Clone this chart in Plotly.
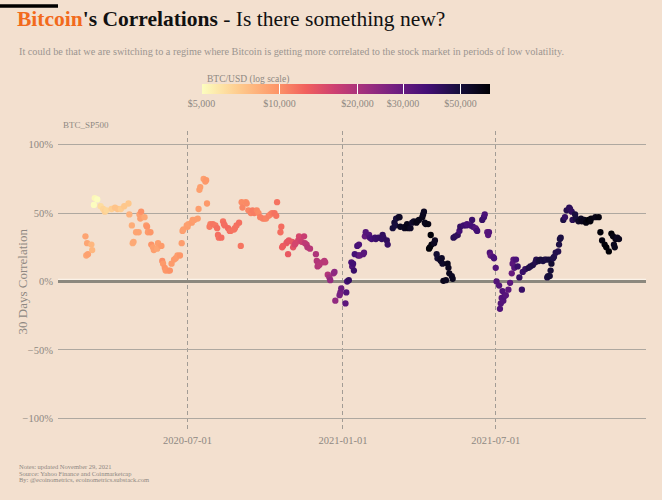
import numpy as np
import plotly.graph_objects as go

# 30 day correlation BTC vs S&P500, BTC price (USD) on each date
dates = [
    "2020-03-02", "2020-03-03", "2020-03-04", "2020-03-05", "2020-03-09", "2020-03-10", "2020-03-12", "2020-03-13",
    "2020-03-16", "2020-03-20", "2020-03-23", "2020-03-25", "2020-03-27", "2020-04-02", "2020-04-06", "2020-04-09",
    "2020-04-13", "2020-04-17", "2020-04-22", "2020-04-23", "2020-04-26", "2020-04-27", "2020-04-28", "2020-05-01",
    "2020-05-04", "2020-05-05", "2020-05-06", "2020-05-07", "2020-05-11", "2020-05-13", "2020-05-14", "2020-05-15",
    "2020-05-18", "2020-05-19", "2020-05-21", "2020-05-22", "2020-05-26", "2020-05-27", "2020-05-31", "2020-06-01",
    "2020-06-02", "2020-06-04", "2020-06-05", "2020-06-08", "2020-06-10", "2020-06-12", "2020-06-15", "2020-06-17",
    "2020-06-19", "2020-06-22", "2020-06-24", "2020-06-25", "2020-06-26", "2020-06-30", "2020-07-01", "2020-07-02",
    "2020-07-06", "2020-07-07", "2020-07-09", "2020-07-13", "2020-07-14", "2020-07-15", "2020-07-16", "2020-07-20",
    "2020-07-22", "2020-07-23", "2020-07-24", "2020-07-27", "2020-07-28", "2020-07-31", "2020-08-03", "2020-08-05",
    "2020-08-06", "2020-08-07", "2020-08-10", "2020-08-12", "2020-08-13", "2020-08-14", "2020-08-18", "2020-08-20",
    "2020-08-21", "2020-08-25", "2020-08-26", "2020-08-28", "2020-08-31", "2020-09-02", "2020-09-03", "2020-09-04",
    "2020-09-08", "2020-09-09", "2020-09-11", "2020-09-14", "2020-09-16", "2020-09-18", "2020-09-21", "2020-09-23",
    "2020-09-25", "2020-09-28", "2020-09-30", "2020-10-02", "2020-10-05", "2020-10-07", "2020-10-09", "2020-10-12",
    "2020-10-14", "2020-10-15", "2020-10-19", "2020-10-20", "2020-10-21", "2020-10-22", "2020-10-26", "2020-10-27",
    "2020-10-28", "2020-10-29", "2020-11-02", "2020-11-03", "2020-11-05", "2020-11-06", "2020-11-09", "2020-11-10",
    "2020-11-11", "2020-11-13", "2020-11-16", "2020-11-17", "2020-11-19", "2020-11-20", "2020-11-23", "2020-11-30",
    "2020-12-01", "2020-12-02", "2020-12-03", "2020-12-04", "2020-12-08", "2020-12-10", "2020-12-11", "2020-12-14",
    "2020-12-16", "2020-12-17", "2020-12-21", "2020-12-22", "2020-12-23", "2020-12-28", "2020-12-29", "2020-12-30",
    "2021-01-04", "2021-01-05", "2021-01-06", "2021-01-08", "2021-01-11", "2021-01-12", "2021-01-13", "2021-01-14",
    "2021-01-15", "2021-01-18", "2021-01-19", "2021-01-20", "2021-01-21", "2021-01-25", "2021-01-26", "2021-01-27",
    "2021-01-28", "2021-02-01", "2021-02-02", "2021-02-04", "2021-02-08", "2021-02-09", "2021-02-12", "2021-02-16",
    "2021-02-17", "2021-02-18", "2021-02-22", "2021-02-23", "2021-03-01", "2021-03-03", "2021-03-04", "2021-03-05",
    "2021-03-08", "2021-03-09", "2021-03-10", "2021-03-15", "2021-03-16", "2021-03-18", "2021-03-19", "2021-03-22",
    "2021-03-24", "2021-03-26", "2021-03-29", "2021-03-30", "2021-04-01", "2021-04-05", "2021-04-06", "2021-04-07",
    "2021-04-08", "2021-04-09", "2021-04-12", "2021-04-13", "2021-04-14", "2021-04-15", "2021-04-16", "2021-04-19",
    "2021-04-20", "2021-04-22", "2021-04-23", "2021-04-26", "2021-04-27", "2021-04-28", "2021-04-29", "2021-04-30",
    "2021-05-03", "2021-05-05", "2021-05-06", "2021-05-07", "2021-05-10", "2021-05-11", "2021-05-12", "2021-05-14",
    "2021-05-17", "2021-05-19", "2021-05-20", "2021-05-24", "2021-05-27", "2021-05-28", "2021-06-01", "2021-06-03",
    "2021-06-04", "2021-06-07", "2021-06-08", "2021-06-09", "2021-06-15", "2021-06-17", "2021-06-18", "2021-06-21",
    "2021-06-22", "2021-06-23", "2021-06-24", "2021-06-25", "2021-06-28", "2021-06-29", "2021-07-01", "2021-07-02",
    "2021-07-05", "2021-07-06", "2021-07-07", "2021-07-08", "2021-07-09", "2021-07-10", "2021-07-11", "2021-07-13",
    "2021-07-16", "2021-07-18", "2021-07-20", "2021-07-21", "2021-07-22", "2021-07-23", "2021-07-25", "2021-07-27",
    "2021-07-29", "2021-08-01", "2021-08-02", "2021-08-05", "2021-08-09", "2021-08-11", "2021-08-14", "2021-08-17",
    "2021-08-18", "2021-08-21", "2021-08-23", "2021-08-26", "2021-08-28", "2021-08-30", "2021-08-31", "2021-09-01",
    "2021-09-02", "2021-09-03", "2021-09-04", "2021-09-05", "2021-09-07", "2021-09-08", "2021-09-10", "2021-09-13",
    "2021-09-14", "2021-09-15", "2021-09-16", "2021-09-19", "2021-09-21", "2021-09-23", "2021-09-26", "2021-09-27",
    "2021-09-29", "2021-09-30", "2021-10-03", "2021-10-04", "2021-10-07", "2021-10-10", "2021-10-11", "2021-10-14",
    "2021-10-16", "2021-10-19", "2021-10-21", "2021-10-22", "2021-10-27", "2021-10-31", "2021-11-02", "2021-11-04",
    "2021-11-07", "2021-11-09", "2021-11-12", "2021-11-15", "2021-11-17", "2021-11-18", "2021-11-19", "2021-11-20",
    "2021-11-22", "2021-11-24",
]

correlation = [
    0.33, 0.19, 0.28, 0.20, 0.27, 0.23, 0.56, 0.61,
    0.60, 0.55, 0.53, 0.51, 0.52, 0.53, 0.54, 0.53,
    0.53, 0.55, 0.57, 0.49, 0.41, 0.28, 0.29, 0.36,
    0.36, 0.49, 0.46, 0.51, 0.47, 0.41, 0.40, 0.36,
    0.36, 0.27, 0.25, 0.23, 0.24, 0.28, 0.26, 0.15,
    0.13, 0.10, 0.08, 0.08, 0.08, 0.13, 0.16, 0.17,
    0.19, 0.19, 0.28, 0.37, 0.38, 0.41, 0.40, 0.42,
    0.43, 0.45, 0.45, 0.46, 0.53, 0.67, 0.69, 0.75,
    0.73, 0.74, 0.57, 0.40, 0.42, 0.42, 0.41, 0.39,
    0.34, 0.32, 0.32, 0.44, 0.42, 0.41, 0.39, 0.37,
    0.37, 0.38, 0.39, 0.41, 0.43, 0.26, 0.58, 0.54,
    0.58, 0.57, 0.52, 0.50, 0.52, 0.50, 0.52, 0.50,
    0.47, 0.46, 0.46, 0.46, 0.48, 0.49, 0.50, 0.50,
    0.48, 0.58, 0.36, 0.40, 0.25, 0.26, 0.28, 0.29,
    0.20, 0.30, 0.29, 0.25, 0.27, 0.28, 0.30, 0.33,
    0.30, 0.29, 0.33, 0.28, 0.27, 0.25, 0.24, 0.20,
    0.15, 0.11, 0.14, 0.12, 0.14, 0.15, 0.14, 0.05,
    0.03, 0.01, 0.06, 0.07, -0.14, -0.10, -0.08, -0.05,
    -0.16, -0.08, 0.00, 0.01, 0.14, 0.11, 0.13, 0.08,
    0.20, 0.26, 0.19, 0.27, 0.19, 0.20, 0.21, 0.33,
    0.36, 0.34, 0.32, 0.31, 0.32, 0.31, 0.32, 0.31,
    0.34, 0.32, 0.30, 0.27, 0.39, 0.43, 0.41, 0.46,
    0.47, 0.47, 0.40, 0.39, 0.40, 0.42, 0.39, 0.39,
    0.43, 0.44, 0.43, 0.44, 0.45, 0.47, 0.49, 0.51,
    0.43, 0.42, 0.42, 0.24, 0.25, 0.34, 0.27, 0.28,
    0.30, 0.20, 0.17, 0.16, 0.15, 0.17, 0.13, 0.005,
    0.01, 0.13, 0.10, 0.06, 0.04, 0.02, 0.32, 0.33,
    0.34, 0.37, 0.40, 0.41, 0.41, 0.42, 0.41, 0.45,
    0.40, 0.39, 0.38, 0.37, 0.45, 0.47, 0.49, 0.36,
    0.34, 0.36, 0.21, 0.19, 0.18, 0.17, 0.10, 0.00,
    -0.03, -0.20, -0.16, -0.12, -0.07, -0.14, -0.11, -0.10,
    -0.06, -0.01, 0.06, 0.13, 0.16, 0.10, 0.16, 0.11,
    0.03, -0.06, 0.07, 0.09, 0.10, 0.11, 0.12, 0.14,
    0.16, 0.15, 0.16, 0.15, 0.16, 0.16, 0.03, 0.04,
    0.16, 0.04, 0.08, 0.13, 0.17, 0.18, 0.21, 0.22,
    0.27, 0.31, 0.32, 0.45, 0.47, 0.52, 0.54, 0.53,
    0.51, 0.45, 0.49, 0.46, 0.44, 0.46, 0.44, 0.45,
    0.43, 0.45, 0.44, 0.46, 0.47, 0.47, 0.36, 0.30,
    0.27, 0.25, 0.22, 0.35, 0.33, 0.27, 0.25, 0.31,
    0.32, 0.31,
]

btc_usd = [
    8900, 8760, 8760, 9080, 7900, 7900, 4970, 5200,
    5000, 6200, 6500, 6700, 6400, 6800, 7300, 7300,
    6900, 7100, 7100, 8200, 8400, 8500, 8600, 8850,
    8900, 9000, 9150, 9950, 8600, 9300, 9800, 9400,
    9700, 9800, 9100, 9200, 8850, 9200, 9450, 10200,
    9500, 9800, 9650, 9750, 9900, 9450, 9450, 9400,
    9300, 9650, 9300, 9250, 9150, 9150, 9230, 9100,
    9350, 9250, 9240, 9250, 9250, 9150, 9130, 9160,
    9540, 9600, 9550, 11000, 10900, 11300, 11200, 11700,
    11750, 11600, 11900, 11550, 11800, 11750, 11950, 11850,
    11500, 11350, 11450, 11500, 11650, 11400, 10200, 10500,
    10100, 10300, 10440, 10680, 10950, 10930, 10420, 10230,
    10740, 10710, 10780, 10570, 10790, 10670, 11060, 11550,
    11430, 11500, 11750, 11900, 12820, 12970, 13030, 13650,
    13270, 13460, 13550, 14000, 15500, 15600, 15300, 15300,
    15700, 16300, 16700, 17650, 17800, 18660, 18400, 19600,
    18800, 19200, 19200, 18650, 18300, 18550, 18250, 19250,
    21300, 22800, 22700, 23800, 23240, 27000, 27300, 28900,
    31970, 33990, 36800, 40700, 35500, 34000, 37400, 39200,
    36800, 36600, 35550, 35500, 30800, 32300, 32500, 30400,
    33400, 33500, 35500, 36900, 38500, 39000, 40000, 40500,
    41500, 41000, 42000, 40000, 49600, 50500, 48400, 48800,
    52400, 54900, 55900, 55600, 56800, 57600, 58000, 54500,
    52300, 55000, 57700, 58900, 58700, 58700, 57000, 56000,
    58000, 58100, 59800, 63500, 62900, 63200, 61400, 56200,
    55700, 51700, 51100, 54000, 55000, 54800, 53500, 57700,
    56600, 57400, 56400, 57300, 55800, 56700, 44000, 43000,
    42000, 37000, 40800, 38400, 38300, 35700, 36700, 39000,
    36900, 33600, 33400, 37400, 40200, 38100, 35800, 31600,
    32500, 33700, 34700, 31600, 34500, 35900, 33500, 33800,
    33700, 34200, 33900, 32900, 33800, 33500, 34300, 32700,
    31500, 31800, 29800, 32100, 32300, 33600, 35400, 39500,
    40000, 39900, 39200, 40900, 46400, 45600, 47100, 44800,
    44600, 48900, 49500, 46900, 48900, 47000, 47200, 48800,
    49300, 50000, 50000, 51800, 46800, 46100, 44900, 44900,
    47100, 48100, 47800, 47300, 40700, 44900, 43200, 42200,
    41600, 43800, 48200, 49100, 53800, 54800, 57500, 57400,
    61000, 64300, 62200, 60700, 58500, 61300, 63200, 61400,
    63300, 64500, 64200, 63600, 60400, 56900, 58100, 59800,
    56300, 57500,
]

price_ticks = [5000, 10000, 20000, 30000, 50000]
price_tick_labels = ["$5,000", "$10,000", "$20,000", "$30,000", "$50,000"]
date_ticks = ["2020-07-01", "2021-01-01", "2021-07-01"]

# reversed magma, stops nudged to match the legend of the original
magma_r = [
    [0.0, "#fcfdbf"], [0.13, "#feca8d"], [0.26, "#fd9668"], [0.36, "#f1605d"], [0.46, "#cd4071"],
    [0.57, "#9e2f7f"], [0.67, "#721f81"], [0.78, "#440f76"], [0.89, "#180f3d"], [1.0, "#000004"],
]

bg = "#f3e0cf"
grey = "#8e8882"
serif = "Liberation Serif, DejaVu Serif, serif"

fig = go.Figure()

fig.add_trace(go.Scatter(
    x=dates,
    y=correlation,
    mode="markers",
    marker=dict(
        size=6.3,
        color=np.log10(btc_usd),
        colorscale=magma_r,
        cmin=np.log10(5000),
        cmax=np.log10(64700),
        line=dict(width=0),
        colorbar=dict(
            orientation="h",
            xref="container", yref="container",
            x=389 / 662, xanchor="center",
            y=1 - 84 / 500, yanchor="top",
            len=288, lenmode="pixels",
            thickness=10,
            xpad=0, ypad=0,
            outlinewidth=0,
            tickvals=np.log10(price_ticks),
            ticktext=price_tick_labels,
            ticks="inside", ticklen=10, tickcolor="white", tickwidth=1,
            tickfont=dict(family=serif, size=10, color=grey),
        ),
    ),
    hoverinfo="x+y",
    showlegend=False,
))

fig.update_layout(
    width=662,
    height=500,
    margin=dict(l=58, r=16, t=128, b=68),
    paper_bgcolor=bg,
    plot_bgcolor=bg,
    font=dict(family=serif, color=grey),
    title=dict(
        text="<b><span style='color:#f26a1c'>Bitcoin</span>'s Correlations</b> - Is there something new?",
        xref="container", yref="container",
        x=17 / 662, xanchor="left",
        y=1 - 18 / 500, yanchor="middle",
        font=dict(family=serif, size=21.5, color="#111111"),
    ),
    xaxis=dict(
        type="date",
        range=["2020-01-29 12:00", "2021-12-26"],
        tickvals=date_ticks,
        tickformat="%Y-%m-%d",
        showgrid=True,
        gridcolor="#a29c95",
        griddash="4px,3px",
        gridwidth=1,
        zeroline=False,
        showline=False,
        ticks="",
        tickfont=dict(family=serif, size=10.5, color=grey),
    ),
    yaxis=dict(
        range=[-1.1, 1.1],
        tickvals=[-1, -0.5, 0, 0.5, 1],
        tickformat=".0%",
        showgrid=True,
        gridcolor="#aea8a0",
        gridwidth=1,
        zeroline=True,
        zerolinecolor="#8c887e",
        zerolinewidth=2.5,
        showline=False,
        ticks="",
        ticklabelstandoff=4,
        tickfont=dict(family=serif, size=10.5, color=grey),
    ),
)

px_x = lambda p: (p - 58) / 588
px_y = lambda p: (432 - p) / 304

annotations = [
    dict(text="It could be that we are switching to a regime where Bitcoin is getting more correlated to the stock market in periods of low volatility.",
         x=px_x(17), y=px_y(48), size=10.25, color="#9b958f"),
    dict(text="BTC/USD (log scale)", x=px_x(205), y=px_y(76), size=9.5, color=grey),
    dict(text="BTC_SP500", x=px_x(61), y=px_y(122), size=9, color=grey),
    dict(text="Notes: updated November 29, 2021", x=px_x(17), y=px_y(467.3), size=6.5, color=grey),
    dict(text="Source: Yahoo Finance and Coinmarketcap", x=px_x(17), y=px_y(473.7), size=6.5, color=grey),
    dict(text="By: @ecoinometrics, ecoinometrics.substack.com", x=px_x(17), y=px_y(480), size=6.5, color=grey),
]
for a in annotations:
    fig.add_annotation(
        text=a["text"], x=a["x"], y=a["y"], xref="paper", yref="paper",
        xanchor="left", yanchor="middle", showarrow=False,
        font=dict(family=serif, size=a["size"], color=a["color"]),
    )

# y axis title
fig.add_annotation(
    text="30 Days Correlation", x=px_x(22), y=0.5, xref="paper", yref="paper",
    textangle=-90, showarrow=False, xanchor="center", yanchor="middle",
    font=dict(family=serif, size=13, color=grey),
)

# light edge just above the zero line
fig.add_shape(type="line", xref="paper", yref="y", x0=0, x1=1, y0=0.015, y1=0.015,
              line=dict(color="#fbf2e8", width=1.2), layer="below")

# black tab in the top-left corner
fig.add_shape(type="rect", xref="paper", yref="paper",
              x0=px_x(0), x1=px_x(58), y0=px_y(3.5), y1=px_y(0),
              fillcolor="black", line=dict(width=0))

fig.write_html("out.html", config={"displayModeBar": False},
               post_script="document.body.style.margin='0';")
